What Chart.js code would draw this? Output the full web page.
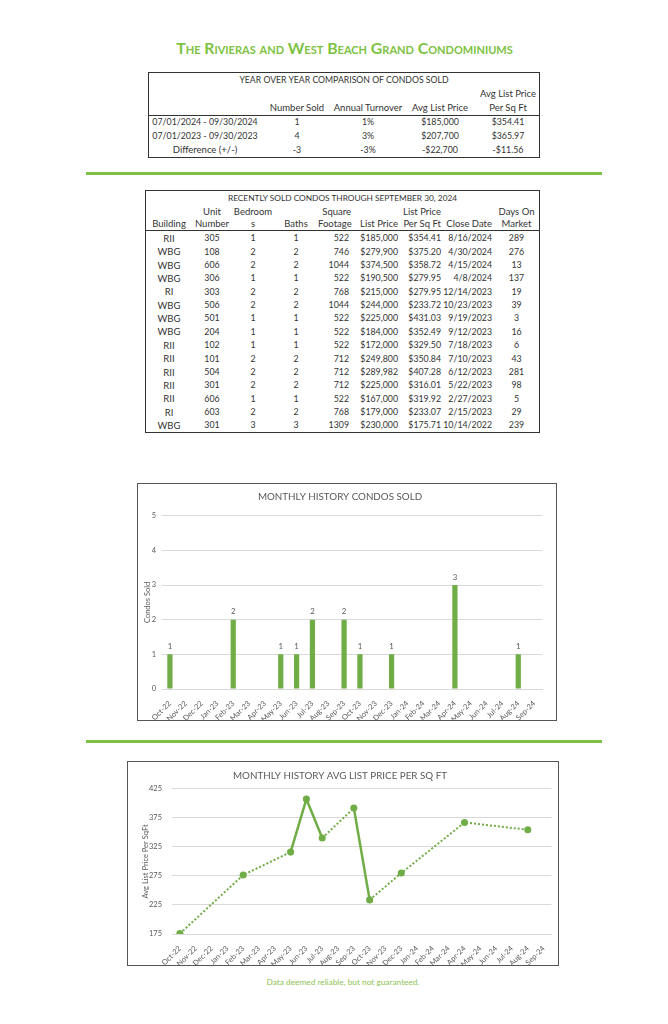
<!DOCTYPE html>
<html><head><meta charset="utf-8">
<script src="https://cdn.jsdelivr.net/npm/chart.js@4.4.1/dist/chart.umd.min.js"></script>
<style>
body{margin:0;background:#fff;width:668px;height:1024px;position:relative;font-family:Lato,sans-serif;overflow:hidden}
#title{position:absolute;left:0;width:689px;top:38px;text-align:center;color:#7dc242;font-weight:bold;font-variant:small-caps;font-size:15.8px;line-height:20px;white-space:nowrap}
.rule{position:absolute;left:86px;width:516px;height:3px;background:#7dc242}
.tbox{position:absolute;border:1.5px solid #333;background:#fff}
table{border-collapse:collapse;table-layout:fixed;color:#333;font-size:9.5px}
td{padding:0;white-space:nowrap;text-align:center;line-height:1;overflow:visible}
td.n{font-size:8.8px}
.r{text-align:right;padding-right:2px}
.sep td{border-bottom:1px solid #333}
.cbox{position:absolute;border:1.5px solid #555;background:#fff}
.cbox canvas{position:absolute;left:0;top:0}
#foot{position:absolute;left:243px;width:200px;top:976px;text-align:center;color:#8dc452;font-size:8.3px;line-height:12px;white-space:nowrap}
</style></head>
<body>
<div id="title">The Rivieras and West Beach Grand Condominiums</div>

<div class="tbox" style="left:148px;top:72px;width:390px;">
<table id="t1" style="width:390px"></table>
</div>
<div class="rule" style="top:172px"></div>

<div class="tbox" style="left:145px;top:190px;width:393px;">
<table id="t2" style="width:393px"></table>
</div>

<div class="cbox" style="left:137px;top:483px;width:418px;height:236px;"><canvas id="bar" width="418" height="236"></canvas></div>
<div class="rule" style="top:740px"></div>
<div class="cbox" style="left:127px;top:761px;width:430px;height:203px;"><canvas id="line" width="430" height="203"></canvas></div>

<div id="foot">Data deemed reliable, but not guaranteed.</div>

<script>
// ---- Table 1 data ----
const yoyTitle = 'YEAR OVER YEAR COMPARISON OF CONDOS SOLD';
const yoyPeriods = ['07/01/2024 - 09/30/2024', '07/01/2023 - 09/30/2023', 'Difference (+/-)'];
const yoyNumberSold = ['1', '4', '-3'];
const yoyTurnover = ['1%', '3%', '-3%'];
const yoyAvgListPrice = ['$185,000', '$207,700', '-$22,700'];
const yoyAvgPerSqFt = ['$354.41', '$365.97', '-$11.56'];

// ---- Table 2 data ----
const soldTitle = 'RECENTLY SOLD CONDOS THROUGH SEPTEMBER 30, 2024';
const buildings = ['RII','WBG','WBG','WBG','RI','WBG','WBG','WBG','RII','RII','RII','RII','RII','RI','WBG'];
const unitNumbers = [305,108,606,306,303,506,501,204,102,101,504,301,606,603,301];
const bedrooms = [1,2,2,1,2,2,1,1,1,2,2,2,1,2,3];
const baths = [1,2,2,1,2,2,1,1,1,2,2,2,1,2,3];
const squareFootage = [522,746,1044,522,768,1044,522,522,522,712,712,712,522,768,1309];
const listPrices = ['$185,000','$279,900','$374,500','$190,500','$215,000','$244,000','$225,000','$184,000','$172,000','$249,800','$289,982','$225,000','$167,000','$179,000','$230,000'];
const pricePerSqFt = ['$354.41','$375.20','$358.72','$279.95','$279.95','$233.72','$431.03','$352.49','$329.50','$350.84','$407.28','$316.01','$319.92','$233.07','$175.71'];
const closeDates = ['8/16/2024','4/30/2024','4/15/2024','4/8/2024','12/14/2023','10/23/2023','9/19/2023','9/12/2023','7/18/2023','7/10/2023','6/12/2023','5/22/2023','2/27/2023','2/15/2023','10/14/2022'];
const daysOnMarket = [289,276,13,137,19,39,3,16,6,43,281,98,5,29,239];

// ---- Chart data ----
const months = ['Oct-22','Nov-22','Dec-22','Jan-23','Feb-23','Mar-23','Apr-23','May-23','Jun-23','Jul-23','Aug-23','Sep-23','Oct-23','Nov-23','Dec-23','Jan-24','Feb-24','Mar-24','Apr-24','May-24','Jun-24','Jul-24','Aug-24','Sep-24'];
const condosSold = [1,0,0,0,2,0,0,1,1,2,0,2,1,0,1,0,0,0,3,0,0,0,1,0];
const avgPricePerSqFt = [175.71,null,null,null,276.50,null,null,316.01,407.28,340.17,null,391.76,233.72,null,279.95,null,null,null,366.96,null,null,null,354.41,null];
const soldTicks = [0,1,2,3,4,5];
const priceTicks = [175,225,275,325,375,425];

// ---- Build table 1 ----
(function(){
  const t = document.getElementById('t1');
  const widths = [112,72,70,74,62];
  let h = '<colgroup>' + widths.map(w=>'<col style="width:'+w+'px">').join('') + '</colgroup>';
  h += '<tr style="height:14px"><td colspan="5" style="font-size:8.7px">'+yoyTitle+'</td></tr>';
  h += '<tr style="height:13px"><td></td><td></td><td></td><td></td><td>Avg List Price</td></tr>';
  h += '<tr class="sep" style="height:15px"><td></td><td>Number Sold</td><td>Annual Turnover</td><td>Avg List Price</td><td>Per Sq Ft</td></tr>';
  for (let i=0;i<yoyPeriods.length;i++){
    const pc = i < 2 ? 'n' : '';
    h += '<tr style="height:14px"><td class="'+pc+'">'+yoyPeriods[i]+'</td><td class="n">'+yoyNumberSold[i]+'</td><td class="n">'+yoyTurnover[i]+'</td><td class="n">'+yoyAvgListPrice[i]+'</td><td class="n">'+yoyAvgPerSqFt[i]+'</td></tr>';
  }
  t.innerHTML = h;
})();

// ---- Build table 2 ----
(function(){
  const t = document.getElementById('t2');
  const widths = [46,40,42,44,35,47,43,51,45];
  let h = '<colgroup>' + widths.map(w=>'<col style="width:'+w+'px">').join('') + '</colgroup>';
  h += '<tr style="height:14.5px"><td colspan="9" style="font-size:8.3px">'+soldTitle+'</td></tr>';
  h += '<tr style="height:12.5px"><td></td><td>Unit</td><td>Bedroom</td><td></td><td class="r">Square</td><td></td><td class="r">List Price</td><td></td><td>Days On</td></tr>';
  h += '<tr class="sep" style="height:12px"><td>Building</td><td>Number</td><td>s</td><td>Baths</td><td class="r">Footage</td><td class="r">List Price</td><td class="r">Per Sq Ft</td><td class="r">Close Date</td><td>Market</td></tr>';
  h += '<tr style="height:2px"><td colspan="9"></td></tr>';
  for (let i=0;i<buildings.length;i++){
    h += '<tr style="height:13.36px"><td>'+buildings[i]+'</td><td class="n">'+unitNumbers[i]+'</td><td class="n">'+bedrooms[i]+'</td><td class="n">'+baths[i]+'</td><td class="r n" style="padding-right:4px">'+squareFootage[i]+'</td><td class="r n">'+listPrices[i]+'</td><td class="r n">'+pricePerSqFt[i]+'</td><td class="r n">'+closeDates[i]+'</td><td class="n">'+daysOnMarket[i]+'</td></tr>';
  }
  t.innerHTML = h;
})();

// ---- Charts ----
Chart.defaults.font.family = 'Lato';
Chart.defaults.color = '#595959';
const GREEN = '#70ad47';
const GRID = '#d9d9d9';
const tickFont = {size:7.5};

const barLabels = {
  id:'barLabels',
  afterDatasetsDraw(chart){
    const ctx = chart.ctx, meta = chart.getDatasetMeta(0), data = chart.data.datasets[0].data;
    ctx.save();
    ctx.font = '7.8px Lato'; ctx.fillStyle = '#595959'; ctx.textAlign = 'center'; ctx.textBaseline = 'middle';
    meta.data.forEach((el,i)=>{ if (data[i] > 0) ctx.fillText(String(data[i]), el.x, el.y - 8); });
    ctx.restore();
  }
};

new Chart(document.getElementById('bar'), {
  type:'bar',
  data:{labels:months, datasets:[{data:condosSold, backgroundColor:GREEN, categoryPercentage:1, barPercentage:0.33}]},
  options:{
    responsive:false, animation:false,
    layout:{padding:{left:0,right:14,top:0,bottom:0}},
    plugins:{
      legend:{display:false}, tooltip:{enabled:false},
      title:{display:true, text:'MONTHLY HISTORY CONDOS SOLD', color:'#595959', font:{size:9.8, weight:'normal'}, padding:{top:7,bottom:13}}
    },
    scales:{
      x:{grid:{display:false}, border:{color:GRID}, ticks:{font:tickFont, maxRotation:45, minRotation:45, autoSkip:false, padding:2},
         afterFit:s=>{s.height=31;}},
      y:{min:0, max:5, afterBuildTicks:s=>{s.ticks = soldTicks.map(v=>({value:v}));},
         grid:{color:GRID, drawTicks:false}, border:{display:false},
         ticks:{font:tickFont, padding:6},
         title:{display:true, text:'Condos Sold', font:{size:7.5}, padding:{top:5,bottom:0}},
         afterFit:s=>{s.width=24;}}
    }
  },
  plugins:[barLabels]
});

const gap = (c, v) => (c.p0.skip || c.p1.skip) ? v : undefined;
new Chart(document.getElementById('line'), {
  type:'line',
  data:{labels:months, datasets:[{data:avgPricePerSqFt, borderColor:GREEN, backgroundColor:GREEN, pointBackgroundColor:GREEN, pointBorderColor:GREEN,
    pointRadius:2.3, borderWidth:2.5, spanGaps:true, tension:0,
    segment:{
      borderDash: c => gap(c, [2,2]),
      borderWidth: c => gap(c, 2)
    }}]},
  options:{
    responsive:false, animation:false,
    layout:{padding:{left:0,right:6,top:0,bottom:0}},
    plugins:{
      legend:{display:false}, tooltip:{enabled:false},
      title:{display:true, text:'MONTHLY HISTORY AVG LIST PRICE PER SQ FT', color:'#595959', font:{size:9.8, weight:'normal'}, padding:{top:7.5,bottom:7.5}}
    },
    scales:{
      x:{offset:true, grid:{display:false}, border:{color:GRID}, ticks:{font:tickFont, maxRotation:45, minRotation:45, autoSkip:false, padding:2},
         afterFit:s=>{s.height=31;}},
      y:{min:175, max:425, afterBuildTicks:s=>{s.ticks = priceTicks.map(v=>({value:v}));},
         grid:{color:GRID, drawTicks:false}, border:{display:false},
         ticks:{font:tickFont, padding:10},
         title:{display:true, text:'Avg List Price Per SqFt', font:{size:7.5}, padding:{top:13,bottom:0}},
         afterFit:s=>{s.width=44;}}
    }
  }
});
</script>
</body></html>
